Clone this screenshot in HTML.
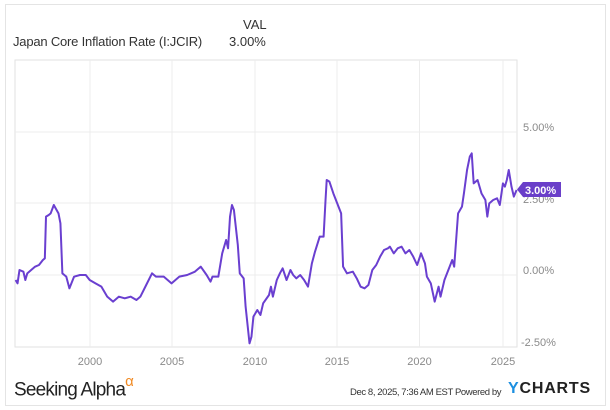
<!DOCTYPE html>
<html><head><style>
body{margin:0;width:610px;height:410px;background:#fff;font-family:"Liberation Sans",sans-serif;overflow:hidden;position:relative}
.t{position:absolute;white-space:nowrap}
</style></head><body>
<div style="position:absolute;left:5px;top:4px;width:599px;height:400px;border:1px solid #e4e4e4"></div>
<div class="t" style="left:243px;top:17px;font-size:13px;color:#333">VAL</div>
<div class="t" style="left:13px;top:34px;font-size:13px;color:#333;letter-spacing:-0.2px">Japan Core Inflation Rate (I:JCIR)</div>
<div class="t" style="left:229px;top:34px;font-size:13px;color:#333">3.00%</div>
<svg width="610" height="410" style="position:absolute;left:0;top:0">
<rect x="15" y="60" width="502" height="287" fill="none" stroke="#e2e2e2"/>
<g stroke="#ececec">
<line x1="15" x2="517" y1="132" y2="132"/><line x1="15" x2="517" y1="203" y2="203"/><line x1="15" x2="517" y1="275" y2="275"/>
<line x1="90" x2="90" y1="60" y2="347"/><line x1="172" x2="172" y1="60" y2="347"/><line x1="255" x2="255" y1="60" y2="347"/><line x1="337" x2="337" y1="60" y2="347"/><line x1="419.5" x2="419.5" y1="60" y2="347"/><line x1="503" x2="503" y1="60" y2="347"/>
</g>
<g font-size="11" fill="#8a8a8a" font-family="Liberation Sans,sans-serif">
<text x="523" y="131">5.00%</text><text x="523" y="203">2.50%</text><text x="523" y="274">0.00%</text><text x="521" y="346">-2.50%</text>
<text x="90" y="365" text-anchor="middle">2000</text><text x="172" y="365" text-anchor="middle">2005</text><text x="255" y="365" text-anchor="middle">2010</text><text x="337" y="365" text-anchor="middle">2015</text><text x="419.5" y="365" text-anchor="middle">2020</text><text x="503" y="365" text-anchor="middle">2025</text>
</g>
<g transform="scale(0.38986,0.33333)">
<polyline fill="none" stroke="#6a3fd0" stroke-width="2" vector-effect="non-scaling-stroke" stroke-linejoin="round" points="40,840 45,850 50,810 60,815 65,840 70,820 90,800 100,795 110,780 115,775 118,650 125,645 130,640 138,615 150,640 155,670 160,820 170,830 178,865 190,830 205,825 220,825 230,840 245,850 260,860 275,890 290,905 305,890 320,895 335,890 350,900 360,890 375,855 390,820 400,830 420,830 440,850 460,830 480,825 500,815 515,800 530,825 540,845 545,830 560,830 570,760 580,720 585,745 590,650 595,615 600,630 610,735 615,820 625,835 630,920 640,1030 645,1010 650,950 660,930 668,945 675,910 690,885 695,860 700,890 710,840 718,820 725,805 735,840 745,810 752,825 760,835 770,825 780,840 790,860 800,790 808,755 820,710 830,710 835,600 838,540 845,545 855,580 865,610 875,640 880,800 890,820 905,815 915,835 925,860 935,865 945,855 955,810 965,795 975,770 985,750 995,745 1000,740 1010,760 1020,745 1030,740 1040,760 1050,750 1060,770 1070,795 1080,760 1090,790 1095,830 1105,850 1115,905 1125,860 1130,890 1140,840 1150,810 1160,780 1165,800 1175,640 1185,620 1190,580 1198,510 1205,470 1210,460 1215,550 1225,540 1235,580 1245,600 1250,650 1255,610 1265,600 1275,595 1282,615 1290,550 1295,560 1300,540 1305,510 1312,560 1318,590 1325,570"/>
</g>
<path d="M517,189.5 L523,182 L561,182 L561,197 L523,197 Z" fill="#6a3fc9"/>
<text x="525" y="194" font-size="11" font-weight="bold" fill="#fff" font-family="Liberation Sans,sans-serif">3.00%</text>
</svg>
<div class="t" style="left:14px;top:375px;font-size:19px;color:#222;letter-spacing:-0.8px">Seeking Alpha<sup style="color:#f08a24;font-size:15px;position:relative;top:-2px">α</sup></div>
<div class="t" style="left:350px;top:387px;font-size:9.5px;color:#333;letter-spacing:-0.4px">Dec 8, 2025, 7:36 AM EST Powered by</div>
<div class="t" style="left:508px;top:380px;font-size:16px;font-weight:bold;color:#222;letter-spacing:0.8px"><span style="color:#1c8fe0">Y</span>CHARTS</div>
</body></html>
